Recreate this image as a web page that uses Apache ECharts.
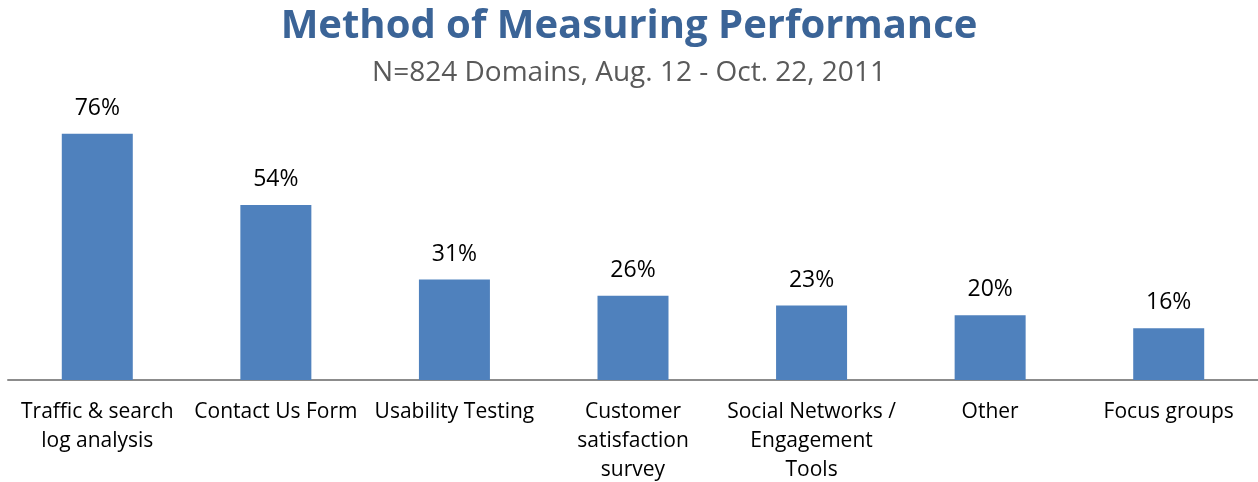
<!DOCTYPE html>
<html>
<head>
<meta charset="utf-8">
<script src="https://cdn.jsdelivr.net/npm/echarts@6/dist/echarts.min.js"></script>
<style>
  html, body { margin: 0; padding: 0; background: #fff; }
  #main { width: 1258px; height: 482px; }
</style>
</head>
<body>
<div id="main"></div>
<script>
// chart data
var categories = [
  "Traffic & search\nlog analysis",
  "Contact Us Form",
  "Usability Testing",
  "Customer\nsatisfaction\nsurvey",
  "Social Networks /\nEngagement\nTools",
  "Other",
  "Focus groups"
];
var percentValues = [76, 54, 31, 26, 23, 20, 16];

var myChart = echarts.init(document.getElementById("main"));
myChart.setOption({
  animation: false,
  textStyle: { fontFamily: "Open Sans" },
  title: {
    text: "Method of Measuring Performance",
    subtext: "N=824 Domains, Aug. 12 - Oct. 22, 2011",
    left: "center",
    top: 2,
    itemGap: 12,
    textStyle: {
      fontFamily: "Open Sans",
      fontSize: 40,
      fontWeight: "bold",
      color: "#3b6497"
    },
    subtextStyle: {
      fontFamily: "Open Sans",
      fontSize: 28,
      color: "#595959"
    }
  },
  grid: {
    left: 8,
    right: 0,
    top: 56,
    bottom: 102,
    outerBoundsMode: "none"
  },
  xAxis: {
    type: "category",
    data: categories,
    axisLine: { lineStyle: { color: "#8c8c8c", width: 2 } },
    axisTick: { show: false },
    axisLabel: {
      interval: 0,
      margin: 18,
      color: "#000",
      fontFamily: "Open Sans",
      fontSize: 21,
      lineHeight: 29
    }
  },
  yAxis: {
    type: "value",
    min: 0,
    max: 100,
    show: false,
    splitLine: { show: false }
  },
  series: [
    {
      type: "bar",
      data: percentValues,
      barWidth: 71,
      itemStyle: { color: "#4f81bd" },
      label: {
        show: true,
        position: "top",
        distance: 14,
        formatter: "{c}%",
        color: "#000",
        fontFamily: "Open Sans",
        fontSize: 23
      }
    }
  ]
});
</script>
</body>
</html>
